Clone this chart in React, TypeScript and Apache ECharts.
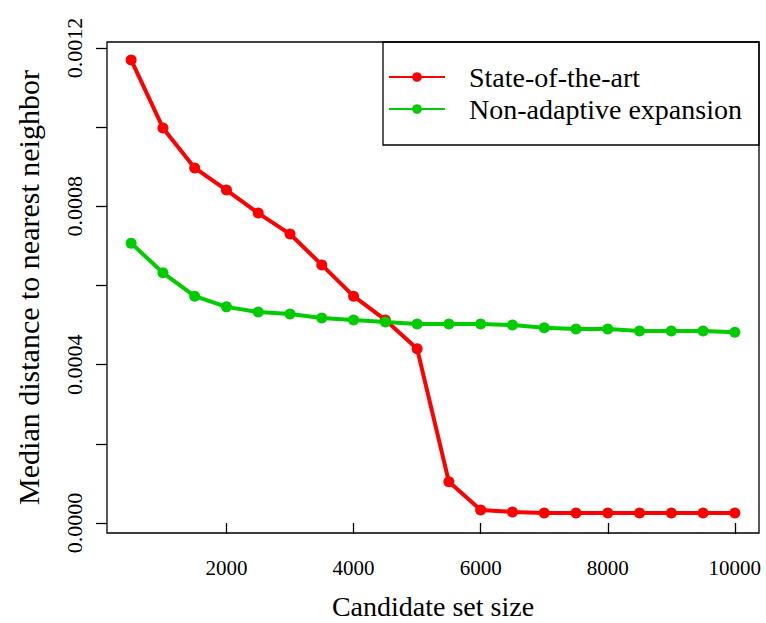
import React, { useEffect, useRef } from "react";
import * as echarts from "echarts";

// Candidate set sizes (x) and median distances for the two methods
const candidateSizes = [
  500, 1000, 1500, 2000, 2500, 3000, 3500, 4000, 4500, 5000,
  5500, 6000, 6500, 7000, 7500, 8000, 8500, 9000, 9500, 10000,
];
const stateOfTheArt = [
  0.00117, 0.000998, 0.000897, 0.000841, 0.000783, 0.00073, 0.000652, 0.000573, 0.000513, 0.00044,
  0.000104, 0.000033, 0.000028, 0.000025, 0.000025, 0.000025, 0.000025, 0.000025, 0.000025, 0.000025,
];
const nonAdaptive = [
  0.000707, 0.000632, 0.000573, 0.000546, 0.000533, 0.000528, 0.000518, 0.000513, 0.000508, 0.000503,
  0.000503, 0.000503, 0.000500, 0.000493, 0.00049, 0.00049, 0.000485, 0.000485, 0.000485, 0.000482,
];
const xTicks = [2000, 4000, 6000, 8000, 10000];
const yTicks = [0, 0.0002, 0.0004, 0.0006, 0.0008, 0.001, 0.0012];
const yLabels = [0, 0.0004, 0.0008, 0.0012];
const seriesNames = ["State-of-the-art", "Non-adaptive expansion"];

const FONT = "Liberation Serif";
const RED = "#ff0000";
const GREEN = "#00cc00";

export default function App() {
  const ref = useRef<HTMLDivElement>(null);

  useEffect(() => {
    if (!ref.current) return;
    const chart = echarts.init(ref.current, undefined, { renderer: "svg" });

    const xs = (vals: number[]) => candidateSizes.map((x, i) => [x, vals[i]]);
    const lineSeries = (name: string, color: string, vals: number[]) => ({
      name,
      type: "line",
      data: xs(vals),
      symbol: "circle",
      symbolSize: 11,
      lineStyle: { color, width: 4 },
      itemStyle: { color },
      emphasis: { disabled: true },
    });

    chart.setOption({
      animation: false,
      backgroundColor: "#ffffff",
      textStyle: { fontFamily: FONT },
      grid: {
        left: 107,
        top: 42,
        width: 652,
        height: 491,
        outerBoundsMode: "none",
        containLabel: false,
        show: true,
        borderColor: "#000",
        borderWidth: 1.3,
        backgroundColor: "transparent",
      },
      xAxis: {
        type: "value",
        min: 120,
        max: 10380,
        name: "Candidate set size",
        nameLocation: "middle",
        nameGap: 59,
        nameTextStyle: { fontFamily: FONT, fontSize: 28, color: "#000" },
        axisLine: { show: false },
        splitLine: { show: false },
        axisTick: {
          show: true,
          inside: false,
          length: 11,
          customValues: xTicks,
          lineStyle: { color: "#000", width: 1.3 },
        },
        axisLabel: {
          customValues: xTicks,
          margin: 24,
          fontFamily: FONT,
          fontSize: 21,
          color: "#000",
          formatter: (v: number) => String(v),
        },
      },
      yAxis: {
        type: "value",
        min: -0.0000253,
        max: 0.0012152,
        name: "Median distance to nearest neighbor",
        nameLocation: "middle",
        nameGap: 64,
        nameTextStyle: { fontFamily: FONT, fontSize: 30, color: "#000" },
        axisLine: { show: false },
        splitLine: { show: false },
        axisTick: {
          show: true,
          inside: false,
          length: 11,
          customValues: yTicks,
          lineStyle: { color: "#000", width: 1.3 },
        },
        axisLabel: {
          customValues: yLabels,
          rotate: 90,
          margin: 22,
          fontFamily: FONT,
          fontSize: 22,
          color: "#000",
          formatter: (v: number) => v.toFixed(4),
        },
      },
      legend: {
        data: seriesNames,
        orient: "vertical",
        left: 388,
        top: 63,
        padding: 0,
        itemGap: 4,
        itemWidth: 56,
        itemHeight: 12,
        textStyle: {
          fontFamily: FONT,
          fontSize: 28,
          color: "#000",
          padding: [0, 0, 0, 19],
        },
        selectedMode: false,
      },
      graphic: [
        {
          type: "rect",
          shape: { x: 383, y: 42, width: 376, height: 103 },
          style: { fill: "transparent", stroke: "#000", lineWidth: 1.3 },
          z: 10,
        },
      ],
      series: [
        lineSeries(seriesNames[0], RED, stateOfTheArt),
        lineSeries(seriesNames[1], GREEN, nonAdaptive),
      ],
    });

    return () => chart.dispose();
  }, []);

  return (
    <div
      ref={ref}
      style={{ position: "absolute", left: 0, top: 0, width: 766, height: 623 }}
    />
  );
}
